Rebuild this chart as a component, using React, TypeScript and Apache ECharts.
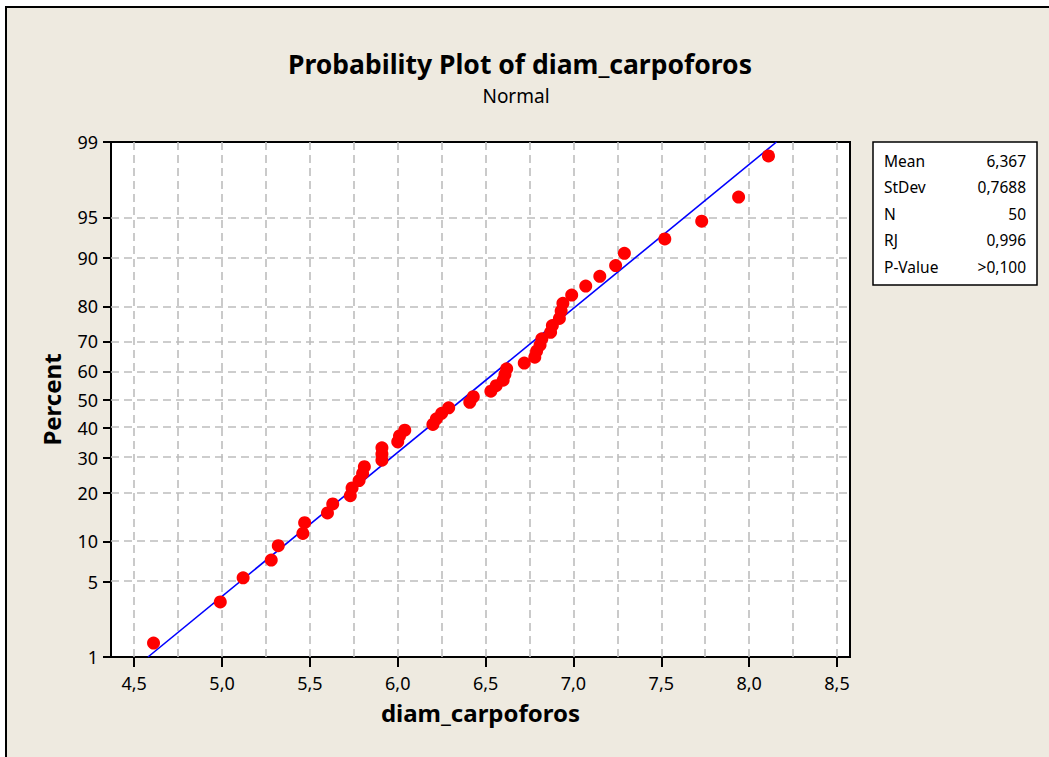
import React, { useEffect, useRef } from "react";
import * as echarts from "echarts";

const diameters = [
  4.61, 4.99, 5.12, 5.28, 5.32, 5.46, 5.47, 5.6, 5.63, 5.73,
  5.74, 5.78, 5.8, 5.81, 5.91, 5.91, 5.91, 6.0, 6.01, 6.04,
  6.2, 6.22, 6.25, 6.29, 6.41, 6.43, 6.53, 6.56, 6.6, 6.61,
  6.62, 6.72, 6.78, 6.79, 6.81, 6.82, 6.87, 6.88, 6.92, 6.93,
  6.94, 6.99, 7.07, 7.15, 7.24, 7.29, 7.52, 7.73, 7.94, 8.11,
];
// Plotted percent for each observation
const percents = [
  1.39, 3.37, 5.36, 7.34, 9.33, 11.31, 13.29, 15.28, 17.26, 19.25,
  21.23, 23.21, 25.2, 27.18, 29.17, 31.15, 33.13, 35.12, 37.1, 39.09,
  41.07, 43.06, 45.04, 47.02, 49.01, 50.99, 52.98, 54.96, 56.94, 58.93,
  60.91, 62.9, 64.88, 66.87, 68.85, 70.83, 72.82, 74.8, 76.79, 78.77,
  80.75, 82.74, 84.72, 86.71, 88.69, 90.67, 92.66, 94.64, 96.63, 98.61,
];
const percentTicks = [1, 5, 10, 20, 30, 40, 50, 60, 70, 80, 90, 95, 99];
const xTicks = [4.5, 5.0, 5.5, 6.0, 6.5, 7.0, 7.5, 8.0, 8.5];
const xGridLines = [4.5, 4.75, 5.0, 5.25, 5.5, 5.75, 6.0, 6.25, 6.5, 6.75, 7.0, 7.25, 7.5, 7.75, 8.0, 8.25, 8.5];
const statLabels = ["Mean", "StDev", "N", "RJ", "P-Value"];
const statValues = ["6,367", "0,7688", "50", "0,996", ">0,100"];
const mean = 6.367;
const stdev = 0.7688;
const xMin = 4.368;
const xMax = 8.574;

// Inverse standard normal CDF (axis transform for the probability scale)
function probit(p: number): number {
  const a = [-3.969683028665376e1, 2.209460984245205e2, -2.759285104469687e2, 1.38357751867269e2, -3.066479806614716e1, 2.506628277459239];
  const b = [-5.447609879822406e1, 1.615858368580409e2, -1.556989798598866e2, 6.680131188771972e1, -1.328068155288572e1];
  const c = [-7.784894002430293e-3, -3.223964580411365e-1, -2.400758277161838, -2.549732539343734, 4.374664141464968, 2.938163982698783];
  const d = [7.784695709041462e-3, 3.224671290700398e-1, 2.445134137142996, 3.754408661907416];
  const plow = 0.02425;
  const phigh = 1 - plow;
  if (p < plow) {
    const q = Math.sqrt(-2 * Math.log(p));
    return (((((c[0] * q + c[1]) * q + c[2]) * q + c[3]) * q + c[4]) * q + c[5]) /
      ((((d[0] * q + d[1]) * q + d[2]) * q + d[3]) * q + 1);
  }
  if (p <= phigh) {
    const q = p - 0.5;
    const r = q * q;
    return ((((((a[0] * r + a[1]) * r + a[2]) * r + a[3]) * r + a[4]) * r + a[5]) * q) /
      (((((b[0] * r + b[1]) * r + b[2]) * r + b[3]) * r + b[4]) * r + 1);
  }
  const q = Math.sqrt(-2 * Math.log(1 - p));
  return -(((((c[0] * q + c[1]) * q + c[2]) * q + c[3]) * q + c[4]) * q + c[5]) /
    ((((d[0] * q + d[1]) * q + d[2]) * q + d[3]) * q + 1);
}

const FONT = '"Noto Sans", "DejaVu Sans", sans-serif';

export default function App() {
  const ref = useRef<HTMLDivElement>(null);

  useEffect(() => {
    if (!ref.current) return;
    const chart = echarts.init(ref.current, null, { renderer: "svg" });
    const zTicks = percentTicks.map((p) => probit(p / 100));
    const yMin = zTicks[0];
    const yMax = zTicks[zTicks.length - 1];
    const points = diameters.map((x, i) => [x, probit(percents[i] / 100)]);
    const fitLine = [
      [mean + yMin * stdev, yMin],
      [mean + yMax * stdev, yMax],
    ];
    const labelFor = (v: number) => {
      for (let i = 0; i < zTicks.length; i++) {
        if (Math.abs(zTicks[i] - v) < 1e-6) return String(percentTicks[i]);
      }
      return "";
    };
    const gridStyle = { type: [8, 5] as any, color: "#bdbdbd", width: 1.6 };

    const rowY = [161, 187, 214, 240, 267];
    const statGraphics: any[] = [];
    statLabels.forEach((s, i) => {
      statGraphics.push({
        type: "text",
        style: { text: s, x: 884, y: rowY[i], textAlign: "left", textVerticalAlign: "middle", font: `15.5px ${FONT}`, fill: "#000" },
      });
      statGraphics.push({
        type: "text",
        style: { text: statValues[i], x: 1026, y: rowY[i], textAlign: "right", textVerticalAlign: "middle", font: `15.5px ${FONT}`, fill: "#000" },
      });
    });

    chart.setOption({
      animation: false,
      backgroundColor: "transparent",
      grid: {
        left: 111,
        top: 142,
        right: 199,
        bottom: 100,
        show: true,
        backgroundColor: "#fff",
        borderColor: "#000",
        borderWidth: 2,
        containLabel: false,
      },
      xAxis: {
        type: "value",
        min: xMin,
        max: xMax,
        name: "diam_carpoforos",
        nameLocation: "middle",
        nameGap: 43,
        nameTextStyle: { fontFamily: FONT, fontWeight: "bold", fontSize: 24, color: "#000" },
        axisLine: { show: false, onZero: false },
        axisTick: { show: true, length: 10, lineStyle: { color: "#000", width: 2 }, customValues: xTicks },
        axisLabel: {
          customValues: xTicks,
          margin: 17,
          fontFamily: FONT,
          fontSize: 18,
          color: "#000",
          formatter: (v: number) => v.toFixed(1).replace(".", ","),
        },
        splitLine: { show: false },
      },
      yAxis: {
        type: "value",
        min: yMin,
        max: yMax,
        name: "Percent",
        nameLocation: "middle",
        nameGap: 48,
        nameTextStyle: { fontFamily: FONT, fontWeight: "bold", fontSize: 24, color: "#000" },
        axisLine: { show: false, onZero: false },
        axisTick: { show: true, length: 8, lineStyle: { color: "#000", width: 2 }, customValues: zTicks },
        axisLabel: {
          customValues: zTicks,
          margin: 13,
          fontFamily: FONT,
          fontSize: 18,
          color: "#000",
          formatter: (v: number) => labelFor(v),
        },
        splitLine: { show: false },
      },
      series: [
        {
          type: "line",
          data: [],
          silent: true,
          z: 1,
          markLine: {
            silent: true,
            z: 1,
            symbol: ["none", "none"],
            label: { show: false },
            lineStyle: gridStyle,
            emphasis: { disabled: true },
            data: [
              ...xGridLines.map((v) => ({ xAxis: v })),
              ...zTicks.slice(1, -1).map((v) => ({ yAxis: v })),
            ],
          },
        },
        {
          type: "line",
          data: fitLine,
          z: 3,
          symbol: "none",
          lineStyle: { color: "#0000ff", width: 1.6 },
          silent: true,
        },
        {
          type: "scatter",
          data: points,
          z: 4,
          symbol: "circle",
          symbolSize: 13,
          itemStyle: { color: "#ff0000", opacity: 1 },
        },
      ],
      graphic: [
        {
          type: "text",
          style: { text: "Probability Plot of diam_carpoforos", x: 520, y: 64, textAlign: "center", textVerticalAlign: "middle", font: `bold 26.5px ${FONT}`, fill: "#000" },
        },
        {
          type: "text",
          style: { text: "Normal", x: 516, y: 96, textAlign: "center", textVerticalAlign: "middle", font: `19px ${FONT}`, fill: "#000" },
        },
        {
          type: "rect",
          shape: { x: 873, y: 142, width: 164, height: 143 },
          style: { fill: "#fff", stroke: "#000", lineWidth: 1.5 },
        },
        ...statGraphics,
      ],
    });
    return () => chart.dispose();
  }, []);

  return (
    <div style={{ position: "absolute", left: 0, top: 0, width: 1049, height: 757, background: "#fff", overflow: "hidden" }}>
      <div
        style={{
          position: "absolute",
          left: 5,
          top: 6,
          width: 1100,
          height: 800,
          background: "#EEEAE0",
          borderLeft: "2px solid #000",
          borderTop: "2px solid #000",
        }}
      />
      <div ref={ref} style={{ position: "absolute", left: 0, top: 0, width: 1049, height: 757 }} />
    </div>
  );
}
